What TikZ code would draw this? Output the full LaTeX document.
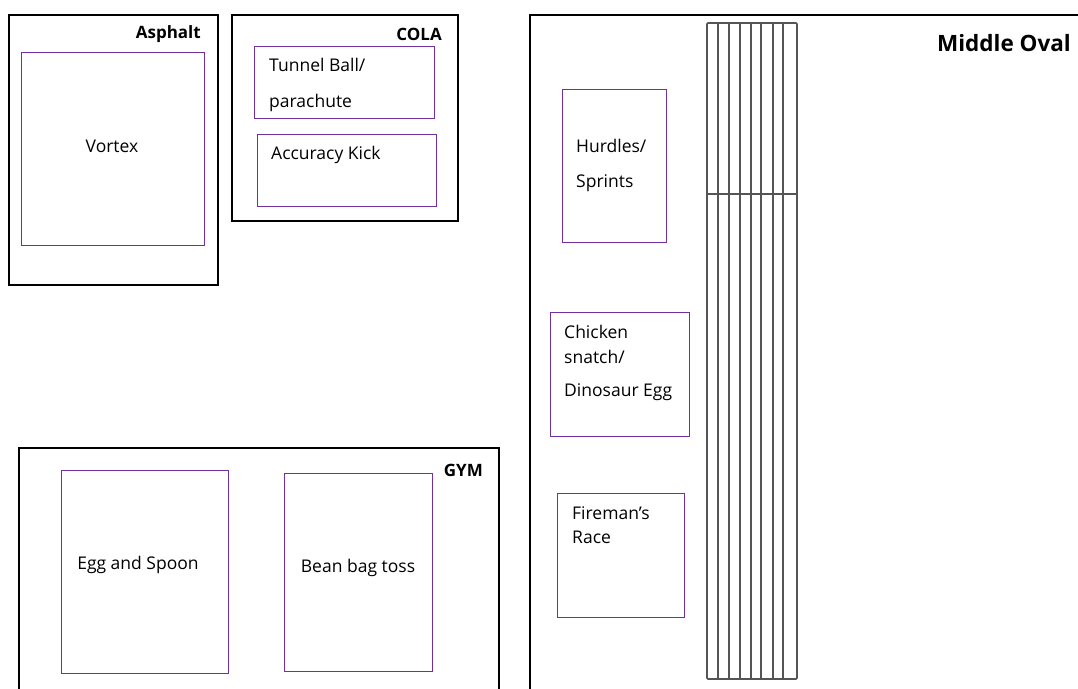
\documentclass[tikz,border=0pt]{standalone}
\usepackage{fontspec}
\setmainfont{Open Sans}
\definecolor{zone}{HTML}{7030A0}
\definecolor{lane}{HTML}{555555}
\begin{document}
\begin{tikzpicture}[x=1pt,y=-1pt,
  area/.style={draw=black,line width=2pt},
  station/.style={draw=zone,line width=1pt},
  lbl/.style={font=\fontsize{17.5}{20}\selectfont,inner sep=0pt,anchor=west,yshift=-1.5pt},
  title/.style={font=\fontsize{17}{20}\selectfont\bfseries,inner sep=0pt,anchor=east},
  lanes/.style={draw=lane,line width=1.6pt}]
\useasboundingbox (0,0) rectangle (1078,688);
\begin{scope}
\clip (0,0) rectangle (1078,688);
% zones
\draw[area] (9,15) rectangle (218,285);
\draw[area] (232,15) rectangle (458,221);
\draw[area] (530,15) rectangle (1100,710);
\draw[area] (19,448) rectangle (499,710);
\node[title] (asph) at (201,34) {Asphalt};
\node[title] (cola) at (442,34) {COLA};
\node[title,font=\fontsize{22.5}{26}\selectfont\bfseries] (oval) at (1071,43) {Middle Oval};
\node[title] (gym) at (483,470) {GYM};
% stations
\draw[station] (21,52) rectangle (204,245);
\node[lbl,anchor=center] (vortex) at (112,145) {Vortex};
\draw[station] (254,46) rectangle (434,118);
\node[lbl] (tb1) at (269,63) {Tunnel Ball/};
\node[lbl] (tb2) at (269,101) {parachute};
\draw[station] (257,134) rectangle (436,206);
\node[lbl] (ak) at (271,153) {Accuracy Kick};
\draw[station] (562,89) rectangle (666,242);
\node[lbl] (h1) at (576,144) {Hurdles/};
\node[lbl] (h2) at (576,182) {Sprints};
\draw[station] (550,312) rectangle (689,436);
\node[lbl] (c1) at (564,330) {Chicken};
\node[lbl] (c2) at (564,355) {snatch/};
\node[lbl] (c3) at (564,391) {Dinosaur Egg};
\draw[station] (557,493) rectangle (684,617);
\node[lbl] (f1) at (572,512) {Fireman’s};
\node[lbl] (f2) at (572,536) {Race};
\draw[station] (61,470) rectangle (228,673);
\node[lbl,anchor=center] (egg) at (138,563) {Egg and Spoon};
\draw[station] (284,473) rectangle (432,671);
\node[lbl,anchor=center] (bean) at (358,566) {Bean bag toss};
% track
\draw[lanes,rounded corners=1pt] (707,23) rectangle (797,679);
\foreach \x in {718,729,740,751,761,773,783}
  \draw[lanes] (\x,23) -- (\x,679);
\draw[lanes] (707,194) -- (797,194);
\end{scope}
\end{tikzpicture}
\end{document}
